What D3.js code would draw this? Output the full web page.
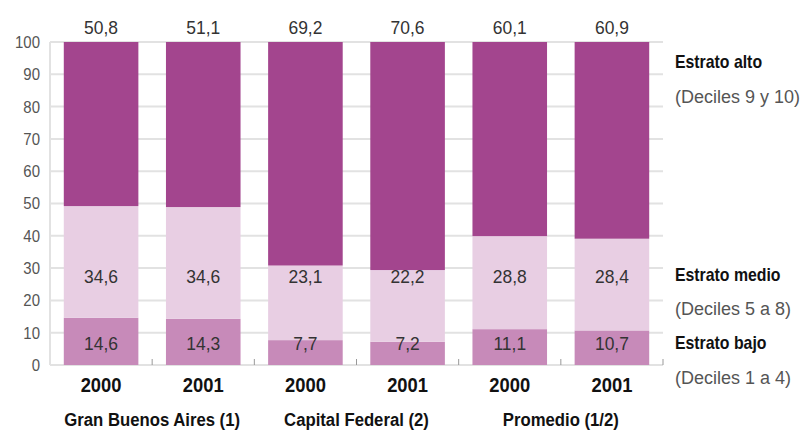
<!DOCTYPE html>
<html>
<head>
<meta charset="utf-8">
<script src="https://cdn.jsdelivr.net/npm/d3@7"></script>
<style>
  body { margin: 0; background: #fff; }
  svg text { font-family: "Liberation Sans", Arial, sans-serif; }
</style>
</head>
<body>
<div id="chart"></div>
<script>
const years = ["2000", "2001", "2000", "2001", "2000", "2001"];
const groups = ["Gran Buenos Aires (1)", "Capital Federal (2)", "Promedio (1/2)"];
const bajo = [14.6, 14.3, 7.7, 7.2, 11.1, 10.7];
const medio = [34.6, 34.6, 23.1, 22.2, 28.8, 28.4];
const alto = [50.8, 51.1, 69.2, 70.6, 60.1, 60.9];
const yTicks = [0, 10, 20, 30, 40, 50, 60, 70, 80, 90, 100];
const legend = [
  { name: "Estrato alto", sub: "(Deciles 9 y 10)" },
  { name: "Estrato medio", sub: "(Deciles 5 a 8)" },
  { name: "Estrato bajo", sub: "(Deciles 1 a 4)" }
];

const width = 804, height = 432;
const colors = { bajo: "#c78ab9", medio: "#e8cee3", alto: "#a3458e" };
const fmt = v => String(v).replace(".", ",");

const svg = d3.select("#chart").append("svg")
  .attr("width", width)
  .attr("height", height);

// the original type is a narrow grotesque, squeeze Liberation a bit
function label(sel, px, py, sx) {
  return sel
    .attr("transform", (d, i) => `translate(${px(d, i)},${py(d, i)}) scale(${sx},1)`)
    .attr("dy", "0.35em");
}

const idx = d3.range(years.length);
const x = d3.scaleBand()
  .domain(idx)
  .range([50, 663])
  .paddingInner(0.27)
  .paddingOuter(0.135);

const y = d3.scaleLinear().domain([0, 100]).range([365, 42]);

// grid
svg.append("g")
  .selectAll("line")
  .data(yTicks)
  .join("line")
  .attr("x1", 50).attr("x2", 663)
  .attr("y1", d => y(d)).attr("y2", d => y(d))
  .attr("stroke", "#e2e2e2")
  .attr("stroke-width", 2);

svg.append("line")
  .attr("x1", 50).attr("x2", 50)
  .attr("y1", y(100)).attr("y2", y(0))
  .attr("stroke", "#e2e2e2")
  .attr("stroke-width", 2);

// y labels
svg.append("g")
  .selectAll("text")
  .data(yTicks)
  .join("text")
  .call(label, () => 40, d => y(d), 0.88)
  .attr("text-anchor", "end")
  .attr("fill", "#555")
  .attr("font-size", 17)
  .text(d => d);

// small ticks at band edges
const step = x.step();
svg.append("g")
  .selectAll("line")
  .data(d3.range(1, years.length + 1))
  .join("line")
  .attr("x1", d => 50 + d * step)
  .attr("x2", d => 50 + d * step)
  .attr("y1", y(0))
  .attr("y2", y(0) - 6)
  .attr("stroke", "#999")
  .attr("stroke-width", 1);

// stacked bars
const stacks = idx.map(i => [
  { key: "bajo", y0: 0, y1: bajo[i] },
  { key: "medio", y0: bajo[i], y1: bajo[i] + medio[i] },
  { key: "alto", y0: bajo[i] + medio[i], y1: 100 }
]);

const barG = svg.append("g")
  .selectAll("g")
  .data(idx)
  .join("g")
  .attr("transform", i => `translate(${x(i)},0)`);

barG.selectAll("rect")
  .data(i => stacks[i])
  .join("rect")
  .attr("x", 0)
  .attr("width", x.bandwidth())
  .attr("y", d => y(d.y1))
  .attr("height", d => y(d.y0) - y(d.y1))
  .attr("fill", d => colors[d.key]);

// value labels
const cx = i => x(i) + x.bandwidth() / 2;
const labelG = svg.append("g")
  .attr("fill", "#333")
  .attr("font-size", 18)
  .attr("text-anchor", "middle");

labelG.selectAll(".top")
  .data(idx)
  .join("text")
  .attr("class", "top")
  .call(label, cx, () => 28, 0.97)
  .text(i => fmt(alto[i]));

labelG.selectAll(".mid")
  .data(idx)
  .join("text")
  .attr("class", "mid")
  .call(label, cx, () => 277, 0.97)
  .text(i => fmt(medio[i]));

labelG.selectAll(".low")
  .data(idx)
  .join("text")
  .attr("class", "low")
  .call(label, cx, () => 344, 0.97)
  .text(i => fmt(bajo[i]));

// x labels
svg.append("g")
  .selectAll("text")
  .data(idx)
  .join("text")
  .call(label, cx, () => 385, 0.92)
  .attr("text-anchor", "middle")
  .attr("font-size", 20)
  .attr("font-weight", "bold")
  .attr("fill", "#111")
  .text(i => years[i]);

svg.append("g")
  .selectAll("text")
  .data(groups)
  .join("text")
  .call(label, (d, g) => 50 + (2 * g + 1) * step, () => 419, 0.88)
  .attr("text-anchor", "middle")
  .attr("font-size", 19)
  .attr("font-weight", "bold")
  .attr("fill", "#111")
  .text(d => d);

// legend
const legendY = [[62, 97], [275, 309], [343, 378]];
const lg = svg.append("g").selectAll("g")
  .data(legend)
  .join("g");

lg.append("text")
  .call(label, () => 675, (d, i) => legendY[i][0], 0.88)
  .attr("font-size", 18)
  .attr("font-weight", "bold")
  .attr("fill", "#111")
  .text(d => d.name);

lg.append("text")
  .call(label, () => 675, (d, i) => legendY[i][1], 1)
  .attr("font-size", 18)
  .attr("fill", "#555")
  .text(d => d.sub);
</script>
</body>
</html>
